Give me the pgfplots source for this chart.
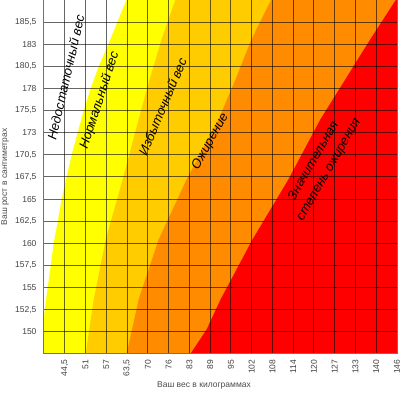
\documentclass[border=0pt]{standalone}
\usepackage{pgfplots}
\pgfplotsset{compat=1.18}
\usepackage{fontspec}
\setmainfont{Liberation Sans}
\definecolor{cyel}{RGB}{255,255,0}
\definecolor{cgold}{RGB}{255,204,0}
\definecolor{corange}{RGB}{255,140,0}
\definecolor{cred}{RGB}{255,0,0}
\begin{document}
\begin{tikzpicture}
\path[use as bounding box] (-44pt,-39pt) rectangle (358pt,354pt);
\begin{axis}[
  at={(0pt,0pt)}, anchor=south west,
  scale only axis, width=353pt, height=354pt,
  xmin=38.1, xmax=146.05, ymin=147.32, ymax=187.96,
  xtick={44.45,50.8,57.15,63.5,69.85,76.2,82.55,88.9,95.25,101.6,107.95,114.3,120.65,127,133.35,139.7,146.05},
  xticklabels={{44,5},51,57,{63,5},70,76,83,89,95,102,108,114,120,127,133,140,146},
  ytick={149.86,152.4,154.94,157.48,160.02,162.56,165.1,167.64,170.18,172.72,175.26,177.8,180.34,182.88,185.42},
  yticklabels={150,{152,5},155,{157,5},160,{162,5},165,{167,5},{170,5},173,{175,5},178,{180,5},183,{185,5}},
  grid=major,
  major grid style={black, opacity=0.6, line width=1pt},
  axis on top,
  major tick length=0pt,
  axis line style={black!55, line width=1pt},
  tick label style={font=\fontsize{8.5}{10}\selectfont, text=black!75},
  xticklabel style={yshift=-5pt, rotate=90, anchor=east, inner sep=0.5pt},
  yticklabel style={anchor=east, xshift=-4pt},
]
\addplot[fill=cyel, draw=none] coordinates {(64.5,190) (63.38,188.03) (60.63,185.51) (57.88,182.98) (54.83,180.34) (52.39,177.81) (50.25,175.28) (48.42,172.76) (46.59,170.23) (45.06,167.70) (43.53,165.17) (42.31,162.53) (41.09,160.12) (40.18,157.48) (39.26,155.06) (38.34,152.42) (37.73,150.12) (36.5,146) (36.5,140) (150,140) (150,190)} -- cycle;
\addplot[fill=cgold, draw=none] coordinates {(79.5,190) (78.34,188.04) (74.06,183.44) (70.40,178.84) (67.04,174.25) (62.16,167.36) (56.97,160.46) (53.30,153.57) (50.86,147.37) (50.3,145) (150,145) (150,190)} -- cycle;
\addplot[fill=corange, draw=none] coordinates {(108.5,190) (107.65,188.04) (101.54,183.44) (96.66,178.84) (91.47,174.25) (81.70,167.36) (73.15,160.46) (67.04,153.57) (63.38,147.37) (62.8,145) (150,145) (150,190)} -- cycle;
\addplot[fill=cred, draw=none] coordinates {(147,190) (145.81,188.04) (137.87,183.44) (130.24,178.84) (122.61,174.25) (112.84,167.36) (101.85,160.46) (92.08,153.57) (87.80,150.12) (82.92,147.37) (82.3,146) (150,145) (150,190)} -- cycle;
\coordinate (t1) at (axis cs:44.76,179.07);
\coordinate (t2) at (axis cs:55.14,176.43);
\coordinate (t3) at (axis cs:74.37,175.74);
\coordinate (t4) at (axis cs:89.02,171.72);
\coordinate (t5) at (axis cs:122.91,168.96);
\end{axis}
\begin{scope}[every node/.style={font=\fontsize{13}{17.5}\selectfont\itshape, text=black, inner sep=0pt}]
\node[rotate=77] at (t1) {Недостаточный вес};
\node[rotate=72] at (t2) {Нормальный вес};
\node[rotate=67] at (t3) {Избыточный вес};
\node[rotate=61] at (t4) {Ожирение};
\node[rotate=60, align=center] at (t5) {Значительная\\степень ожирения};
\end{scope}
\node[rotate=90, font=\fontsize{8.5}{10}\selectfont, text=black!70] at (-39pt,177pt) {Ваш рост в сантиметрах};
\node[font=\fontsize{8.5}{10}\selectfont, text=black!70] at (160pt,-31pt) {Ваш вес в килограммах};
\end{tikzpicture}
\end{document}
